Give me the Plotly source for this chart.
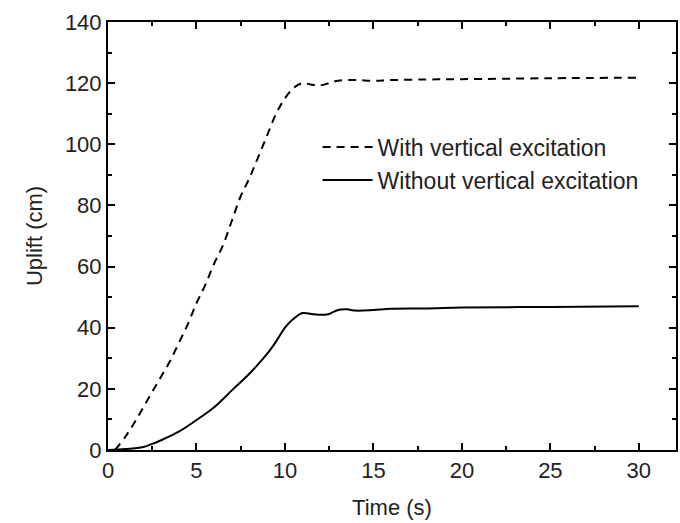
import plotly.graph_objects as go

# Time (s) and uplift (cm)
t_with = [0.4, 1, 1.5, 2, 2.5, 3, 3.5, 4, 4.5, 5, 5.5, 6, 6.5, 7, 7.5, 8, 8.5, 9, 9.5,
          10, 10.5, 11, 11.5, 12, 12.5, 13, 14, 15, 16, 18, 20, 25, 30]
u_with = [0, 4.5, 9, 14, 19, 24, 29, 35, 41, 48, 54, 61, 67, 75, 83, 89, 96, 103, 110,
          115, 118.5, 120, 119.5, 119.3, 120, 120.8, 121, 120.8, 121, 121.2, 121.3, 121.6, 121.8]

t_without = [0, 1, 2, 2.5, 3, 4, 5, 6, 7, 8, 9, 9.5, 10, 10.5, 11, 11.5, 12, 12.5, 13,
             13.5, 14, 15, 16, 18, 20, 25, 30]
u_without = [0, 0.3, 1.0, 2.0, 3.2, 6, 9.8, 14, 19.5, 25, 31.5, 35.5, 40, 43, 44.8, 44.5,
             44.2, 44.5, 45.8, 46, 45.6, 45.8, 46.2, 46.3, 46.6, 46.8, 47]

series_names = ["With vertical excitation", "Without vertical excitation"]
x_ticks = [0, 5, 10, 15, 20, 25, 30]
y_ticks = [0, 20, 40, 60, 80, 100, 120, 140]

FONT = "Liberation Sans, Arial, sans-serif"

fig = go.Figure()
fig.add_trace(go.Scatter(x=t_with, y=u_with, mode="lines", name=series_names[0],
                         line=dict(color="black", width=2, dash="8px,6px"),
                         line_shape="spline"))
fig.add_trace(go.Scatter(x=t_without, y=u_without, mode="lines", name=series_names[1],
                         line=dict(color="black", width=2), line_shape="spline"))

axis_common = dict(showline=True, linecolor="black", linewidth=2, mirror="ticks",
                   ticks="inside", ticklen=7, tickwidth=2, tickcolor="black",
                   showgrid=False, zeroline=False,
                   tickfont=dict(family=FONT, size=22, color="#222"))

fig.update_xaxes(range=[0, 32.1], tickvals=x_ticks,
                 minor=dict(ticks="inside", ticklen=4, tickwidth=2, tickcolor="black", dtick=2.5, tick0=0),
                 title=dict(text="Time (s)", font=dict(family=FONT, size=22, color="#222"), standoff=17),
                 **axis_common)
fig.update_yaxes(range=[0, 140], tickvals=y_ticks,
                 minor=dict(ticks="inside", ticklen=4, tickwidth=2, tickcolor="black", dtick=10, tick0=0),
                 title=dict(text="Uplift (cm)", font=dict(family=FONT, size=22, color="#222"), standoff=16),
                 **axis_common)

fig.update_layout(
    width=680, height=523,
    margin=dict(l=108, r=2, t=22, b=73),
    plot_bgcolor="white", paper_bgcolor="white",
    font=dict(family=FONT, color="#222"),
    legend=dict(x=0.369, y=0.758, xanchor="left", yanchor="top",
                bgcolor="rgba(0,0,0,0)", font=dict(family=FONT, size=23, color="#222"),
                tracegroupgap=0, itemwidth=50),
)

fig.write_html("out.html")
